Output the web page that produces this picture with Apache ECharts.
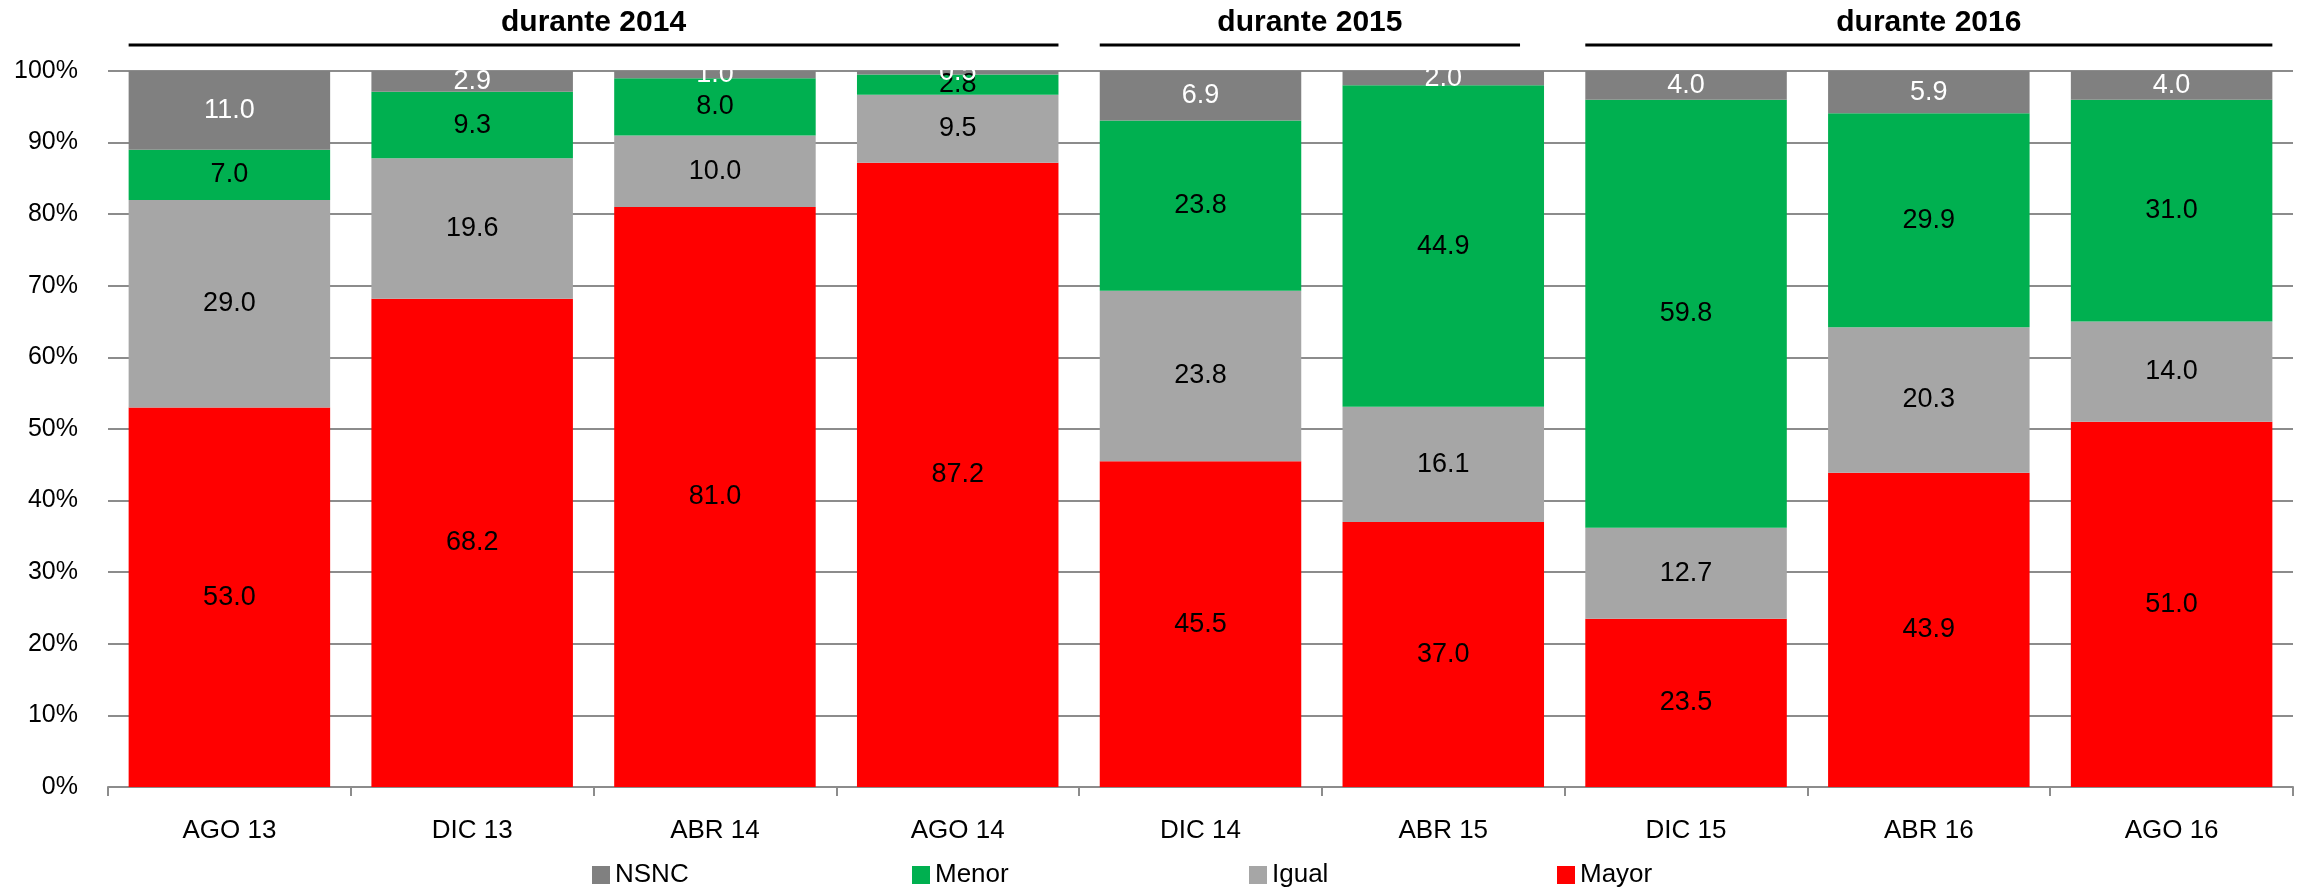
<!DOCTYPE html>
<html>
<head>
    <meta charset="utf-8">
    <title>durante 2014 - 2016</title>
    <script src="https://cdn.jsdelivr.net/npm/echarts@6/dist/echarts.min.js"></script>
</head>
<body style="margin: 0; background: #fff">
<div id="container" style="width: 2300px; height: 892px"></div>
<script>
    // datos (porcentajes)
    var categorias = ['AGO 13', 'DIC 13', 'ABR 14', 'AGO 14', 'DIC 14', 'ABR 15', 'DIC 15', 'ABR 16', 'AGO 16'];
    var mayor = [53.0, 68.2, 81.0, 87.2, 45.5, 37.0, 23.5, 43.9, 51.0];
    var igual = [29.0, 19.6, 10.0, 9.5, 23.8, 16.1, 12.7, 20.3, 14.0];
    var menor = [7.0, 9.3, 8.0, 2.8, 23.8, 44.9, 59.8, 29.9, 31.0];
    var nsnc = [11.0, 2.9, 1.0, 0.5, 6.9, 2.0, 4.0, 5.9, 4.0];

    // grupos de la cabecera
    var grupos = ['durante 2014', 'durante 2015', 'durante 2016'];
    var grupoDesde = [0, 4, 6];
    var grupoHasta = [3, 5, 8];

    var fuente = '"Liberation Sans", Arial, sans-serif';
    var gris = '#8c8c8c';

    var myChart = echarts.init(document.getElementById('container'));

    function serie(nombre, datos, color, colorTexto) {
        return {
            name: nombre,
            type: 'bar',
            stack: 'total',
            barCategoryGap: '17%',
            data: datos,
            itemStyle: {color: color},
            label: {
                show: true,
                position: 'inside',
                color: colorTexto,
                fontFamily: fuente,
                fontSize: 27,
                formatter: function (p) {
                    return p.value.toFixed(1);
                }
            },
            emphasis: {disabled: true}
        };
    }

    function leyenda(nombre, x) {
        return {
            data: [nombre],
            left: x,
            top: 857,
            icon: 'rect',
            itemWidth: 18,
            itemHeight: 18,
            itemGap: 0,
            textStyle: {fontFamily: fuente, fontSize: 26, color: '#000'}
        };
    }

    var option = {
        backgroundColor: '#fff',
        animation: false,
        grid: {left: 108, right: 7, top: 71, bottom: 105},
        legend: [
            leyenda('NSNC', 587),
            leyenda('Menor', 907),
            leyenda('Igual', 1244),
            leyenda('Mayor', 1552)
        ],
        xAxis: {
            type: 'category',
            data: categorias,
            axisLine: {lineStyle: {color: gris, width: 2}},
            axisTick: {show: true, length: 9, lineStyle: {color: gris, width: 2}},
            axisLabel: {
                fontFamily: fuente,
                fontSize: 26,
                color: '#000',
                margin: 31
            }
        },
        yAxis: {
            type: 'value',
            min: 0,
            max: 100,
            interval: 10,
            axisLine: {show: false},
            axisTick: {show: false},
            splitLine: {lineStyle: {color: gris, width: 2}},
            axisLabel: {
                formatter: '{value}%',
                fontFamily: fuente,
                fontSize: 25,
                color: '#000',
                margin: 30
            }
        },
        series: [
            serie('Mayor', mayor, '#ff0000', '#000'),
            serie('Igual', igual, '#a6a6a6', '#000'),
            serie('Menor', menor, '#00b050', '#000'),
            serie('NSNC', nsnc, '#808080', '#fff')
        ]
    };

    myChart.setOption(option);

    // cabeceras "durante ..." con su linea, ubicadas segun las categorias
    var anchoCat = myChart.convertToPixel({xAxisIndex: 0}, categorias[1]) -
        myChart.convertToPixel({xAxisIndex: 0}, categorias[0]);
    var medioBarra = anchoCat * 0.83 / 2;
    var graficos = [];
    for (var i = 0; i < grupos.length; i++) {
        var x1 = myChart.convertToPixel({xAxisIndex: 0}, categorias[grupoDesde[i]]) - medioBarra;
        var x2 = myChart.convertToPixel({xAxisIndex: 0}, categorias[grupoHasta[i]]) + medioBarra;
        if (i === 1) {
            x2 -= 24;
        }
        graficos.push({
            type: 'line',
            shape: {x1: x1, y1: 45, x2: x2, y2: 45},
            style: {stroke: '#000', lineWidth: 3}
        });
        graficos.push({
            type: 'text',
            x: (x1 + x2) / 2,
            y: 23,
            style: {
                text: grupos[i],
                align: 'center',
                verticalAlign: 'middle',
                font: 'bold 30px ' + fuente,
                fill: '#000'
            }
        });
    }
    myChart.setOption({graphic: graficos});
</script>
</body>
</html>
